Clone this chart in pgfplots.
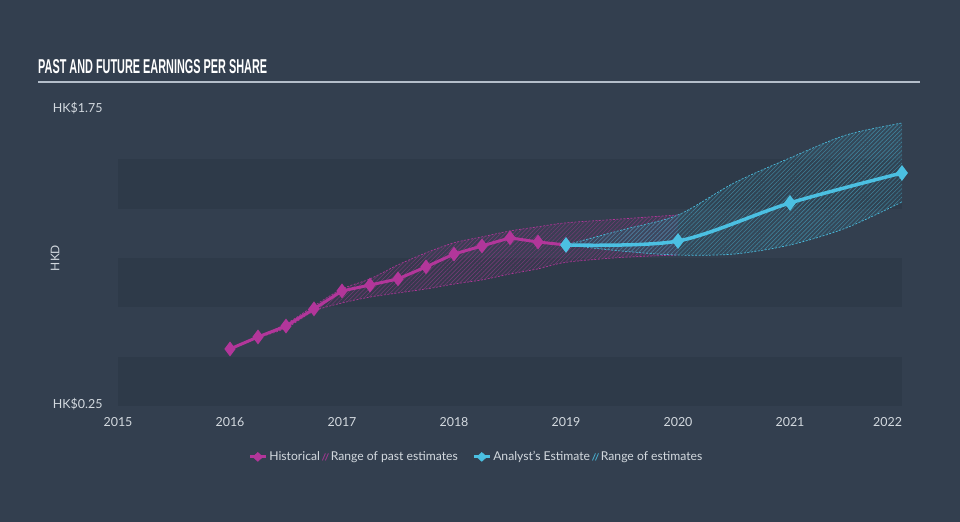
\documentclass[border=0pt]{standalone}
\usepackage{pgfplots}
\pgfplotsset{compat=1.18}
\usepgfplotslibrary{fillbetween}
\usetikzlibrary{patterns.meta}
\usepackage{fontspec}
\setmainfont{Lato}
\newfontfamily\titlefont{Liberation Sans}
\definecolor{bg}{HTML}{333F4F}
\definecolor{band}{HTML}{2E3A49}
\definecolor{mag}{HTML}{B2369A}
\definecolor{cya}{HTML}{4BC0E2}
\definecolor{txt}{HTML}{D3D9DF}
\definecolor{axc}{HTML}{B4BECA}
\begin{document}
\begin{tikzpicture}[x=1bp,y=1bp]
\fill[bg] (0,0) rectangle (960,522);
\node[anchor=base west, inner sep=0, text=white] at (38,448) {\resizebox{229bp}{14bp}{\titlefont\bfseries PAST AND FUTURE EARNINGS PER SHARE}};
\draw[color=axc, line width=1.5bp] (38,440) -- (920,440);
\node[rotate=90, text=txt, font=\fontsize{12}{14}\selectfont] at (55,264) {HKD};
\begin{axis}[
  at={(118bp,116bp)}, anchor=south west, scale only axis,
  width=784bp, height=296bp,
  xmin=2015, xmax=2022, ymin=0.25, ymax=1.75,
  clip=false,
  /tikz/fill between/on layer=main,
  axis x line=bottom, axis y line=left,
  axis line style={-},
  x axis line style={color=axc, line width=1.2bp},
  y axis line style={draw=none},
  xtick={2015,2016,2017,2018,2019,2020,2021,2022},
  xticklabels={2015,2016,2017,2018,2019,2020,2021,\makebox[0pt][r]{2022}},
  ytick={0.25,1.75},
  yticklabels={HK\$0.25,HK\$1.75},
  tick align=outside,
  major tick length=8bp,
  x tick style={color=axc, line width=1.2bp},
  y tick style={draw=none},
  xticklabel style={text=txt, font=\fontsize{12.5}{14}\selectfont},
  yticklabel style={text=txt, font=\fontsize{12.5}{14}\selectfont, anchor=east, xshift=-4bp, yshift=2bp},
  legend style={at={(0.457,-0.172)}, anchor=center, draw=none, fill=none,
    text=txt, font=\fontsize{12.2}{14}\selectfont,
    /tikz/every even column/.append style={column sep=0bp}},
  legend columns=4,
  legend cell align=left,
]
% bands
\addplot[draw=none, fill=band, forget plot] coordinates {(2015,0.25)(2022,0.25)(2022,0.5)(2015,0.5)} -- cycle;
\addplot[draw=none, fill=band, forget plot] coordinates {(2015,0.75)(2022,0.75)(2022,1.0)(2015,1.0)} -- cycle;
\addplot[draw=none, fill=band, forget plot] coordinates {(2015,1.25)(2022,1.25)(2022,1.5)(2015,1.5)} -- cycle;
% past range
\addplot[name path=pu, mag, line width=0.7bp, dash pattern=on 2bp off 1.5bp, smooth, forget plot] coordinates {
(2016,0.539)(2016.25,0.600)(2016.5,0.666)(2016.75,0.757)(2017,0.843)(2017.25,0.894)(2017.5,0.965)(2017.75,1.026)(2018,1.077)(2018.25,1.107)(2018.5,1.137)(2018.75,1.158)(2019,1.178)(2019.5,1.198)(2020,1.218)};
\addplot[name path=pl, mag, line width=0.7bp, dash pattern=on 2bp off 1.5bp, smooth, forget plot] coordinates {
(2016,0.539)(2016.25,0.595)(2016.5,0.645)(2016.75,0.731)(2017,0.772)(2017.25,0.802)(2017.5,0.823)(2017.75,0.843)(2018,0.868)(2018.25,0.889)(2018.5,0.919)(2018.75,0.945)(2019,0.978)(2019.5,1.003)(2020,1.015)};
\addplot[draw=none, fill=mag, fill opacity=0.07, forget plot] fill between[of=pu and pl];
\addplot[draw=none, pattern={Lines[angle=45,distance=3bp,line width=0.6bp]}, pattern color=mag!50!bg, forget plot] fill between[of=pu and pl];
% future range
\addplot[name path=fu, cya, line width=0.7bp, dash pattern=on 2bp off 1.5bp, smooth, forget plot] coordinates {
(2019,1.066)(2019.5,1.142)(2020,1.218)(2020.5,1.380)(2021,1.507)(2021.5,1.623)(2022,1.684)};
\addplot[name path=fl, cya, line width=0.7bp, dash pattern=on 2bp off 1.5bp, smooth, forget plot] coordinates {
(2019,1.066)(2019.5,1.035)(2020,1.015)(2020.5,1.020)(2021,1.066)(2021.5,1.152)(2022,1.284)};
\addplot[draw=none, fill=cya, fill opacity=0.07, forget plot] fill between[of=fu and fl];
\addplot[draw=none, pattern={Lines[angle=45,distance=3bp,line width=0.6bp]}, pattern color=cya!50!bg, forget plot] fill between[of=fu and fl];
% historical
\addplot[mag, line width=3bp, mark=diamond*, mark size=5bp, mark options={solid}, forget plot] coordinates {
(2016,0.539)(2016.25,0.600)(2016.5,0.655)(2016.75,0.742)(2017,0.833)(2017.25,0.863)(2017.5,0.894)(2017.75,0.955)(2018,1.020)(2018.25,1.061)(2018.5,1.102)(2018.75,1.081)(2019,1.066)};
% analyst
\addplot[cya, line width=3.5bp, smooth, mark=diamond*, mark size=5bp, forget plot] coordinates {
(2019,1.066)(2020,1.086)(2021,1.279)(2022,1.431)};
% legend
\addlegendimage{legend image code/.code={
  \draw[mag, line width=3bp] (0bp,0bp) -- (16bp,0bp);
  \fill[mag] (8bp,-4.5bp) -- (13bp,0bp) -- (8bp,4.5bp) -- (3bp,0bp) -- cycle;}}
\addlegendentry{Historical}
\addlegendimage{legend image code/.code={
  \draw[mag!80!bg, line width=0.9bp] (0bp,-3.5bp) -- (3bp,3.5bp) (3bp,-3.5bp) -- (6bp,3.5bp);}}
\addlegendentry{Range of past estimates}
\addlegendimage{legend image code/.code={
  \path[draw=none] (-14bp,0bp) -- (0bp,0bp);
  \draw[cya, line width=3bp] (0bp,0bp) -- (16bp,0bp);
  \fill[cya] (8bp,-4.5bp) -- (13bp,0bp) -- (8bp,4.5bp) -- (3bp,0bp) -- cycle;}}
\addlegendentry{Analyst's Estimate}
\addlegendimage{legend image code/.code={
  \draw[cya!80!bg, line width=0.9bp] (0bp,-3.5bp) -- (3bp,3.5bp) (3bp,-3.5bp) -- (6bp,3.5bp);}}
\addlegendentry{Range of estimates}
\end{axis}
\pgfresetboundingbox
\useasboundingbox (0,0) rectangle (960,522);
\end{tikzpicture}
\end{document}
